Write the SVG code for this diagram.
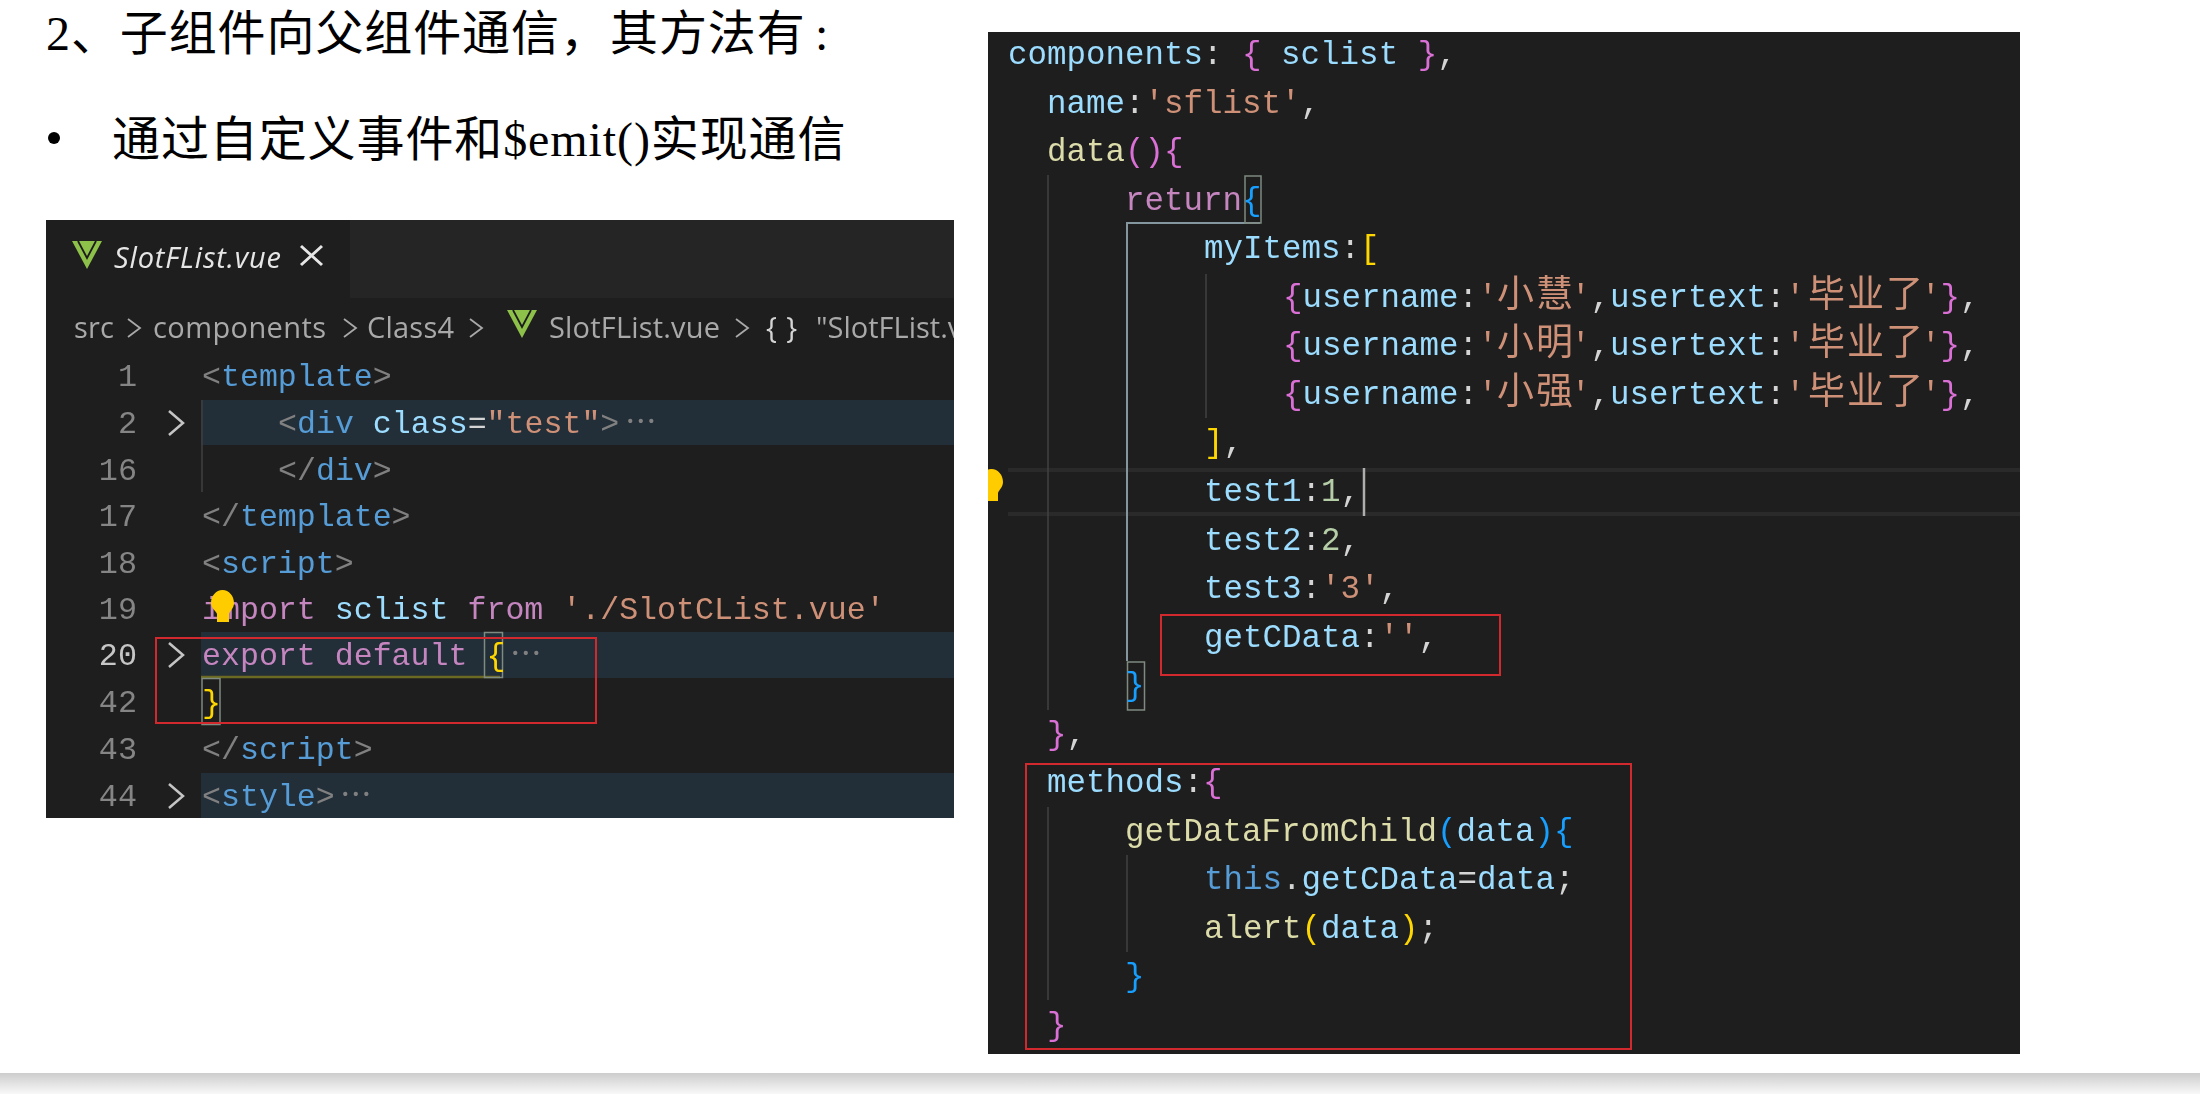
<svg xmlns="http://www.w3.org/2000/svg" width="2200" height="1094" viewBox="0 0 2200 1094">
<defs>
<style>
.h{font-family:"Liberation Serif","Noto Sans CJK SC",serif;font-size:48px;fill:#000;letter-spacing:.9px}
.l{font-family:"Liberation Mono","Noto Sans CJK SC",monospace;font-size:31.6px;white-space:pre}
.r{font-family:"Liberation Mono","Noto Sans CJK SC",monospace;font-size:32.5px;white-space:pre}
.n{font-family:"Liberation Mono",monospace;font-size:31.8px;fill:#858585;text-anchor:end}
.c{font-family:"Noto Sans CJK SC",sans-serif;font-size:37px;letter-spacing:2px;fill:#ce9178}
.b{font-family:"Open Sans",sans-serif;font-size:29px;fill:#a9a9a9}
.p{fill:#9cdcfe}.w{fill:#d4d4d4}.s{fill:#ce9178}.f{fill:#dcdcaa}.k{fill:#c586c0}.o{fill:#da70d6}.y{fill:#ffd700}.u{fill:#179fff}.t{fill:#569cd6}.g{fill:#808080}.d{fill:#b5cea8}
.rb{fill:none;stroke:#d2292e;stroke-width:2}
.ig{stroke:#404040;stroke-width:1.5;fill:none}
.ag{stroke:#84979e;stroke-width:2;fill:none}
.bx{fill:none;stroke:#7f8a80;stroke-width:1.5}
.ch{fill:none;stroke:#c5c5c5;stroke-width:2.5}
.cb{fill:none;stroke:#a9a9a9;stroke-width:1.8}
</style>
<filter id="soft" x="0" y="0" width="1" height="1"><feGaussianBlur stdDeviation="0.45"/></filter>
<linearGradient id="foot" x1="0" y1="0" x2="0" y2="1"><stop offset="0" stop-color="#cdcdcd"/><stop offset="1" stop-color="#f8f8f8"/></linearGradient>
<clipPath id="lc"><rect x="46" y="220" width="908" height="598"/></clipPath>
<clipPath id="rc"><rect x="988" y="32" width="1032" height="1022"/></clipPath>
<g id="vue"><path d="M0 0H30L15 28Z" fill="#8dc149"/><path d="M6 0L15 17L24 0" fill="none" stroke="#1e1e1e" stroke-width="1.800"/></g>
<g id="bulb"><path d="M11.500 0C18 0 23 6 23 13C23 18 19 21 18 24V32H6V24C5 21 0 18 0 13C0 6 5 0 11.500 0Z" fill="#ffcc00"/></g>
<path id="chev" d="M0 -12L14 0L0 12" class="ch"/>
<path id="cs" d="M0 -9L12 0L0 9" class="cb"/>
</defs>
<rect width="2200" height="1094" fill="#fff"/>
<rect id="footer" x="0" y="1073" width="2200" height="21" fill="url(#foot)"/>
<g id="heading">
<text class="h" x="46" y="50">2、子组件向父组件通信，<tspan x="610">其方法有</tspan><tspan x="815">:</tspan></text>
<circle cx="54" cy="138" r="6" fill="#000"/>
<text class="h" x="112" y="156">通过自定义事件和$emit()实现通信</text>
</g>
<g id="left-editor" clip-path="url(#lc)">
<rect x="46" y="220" width="908" height="598" fill="#1e1e1e"/>
<rect x="350" y="220" width="604" height="78" fill="#252526"/>
<g filter="url(#soft)">
<rect x="201" y="400" width="753" height="45" fill="#222d38"/>
<rect x="201" y="632" width="753" height="46" fill="#222d38"/>
<rect x="201" y="773" width="753" height="45" fill="#222d38"/>
<use href="#vue" x="72" y="241"/>
<text x="114" y="268" font-family="Open Sans,sans-serif" font-size="29" font-style="italic" fill="#e6e6e6" textLength="167">SlotFList.vue</text>
<path d="M301 246L322 265M322 246L301 265" stroke="#e6e6e6" stroke-width="3" fill="none"/>
<text class="b" x="74" y="338" textLength="40">src</text>
<use href="#cs" x="128" y="328"/>
<text class="b" x="153" y="338" textLength="173">components</text>
<use href="#cs" x="344" y="328"/>
<text class="b" x="367" y="338" textLength="87">Class4</text>
<use href="#cs" x="470" y="328"/>
<use href="#vue" x="507" y="310"/>
<text class="b" x="549" y="338" textLength="171">SlotFList.vue</text>
<use href="#cs" x="736" y="328"/>
<text class="b" x="766" y="338" style="fill:#d4d4d4" textLength="31">{}</text>
<text class="b" x="816" y="338">"SlotFList.vue"</text>
<path class="ig" d="M202 400V492"/>
<text class="n" x="137" y="386">1</text>
<text class="n" x="137" y="433">2</text>
<text class="n" x="137" y="480">16</text>
<text class="n" x="137" y="526">17</text>
<text class="n" x="137" y="573">18</text>
<text class="n" x="137" y="619">19</text>
<text class="n" x="137" y="665" style="fill:#c6c6c6">20</text>
<text class="n" x="137" y="712">42</text>
<text class="n" x="137" y="759">43</text>
<text class="n" x="137" y="806">44</text>
<use href="#chev" x="169" y="423"/>
<use href="#chev" x="169" y="655"/>
<use href="#chev" x="169" y="796"/>
<text class="l" x="202" y="386"><tspan class="g">&lt;</tspan><tspan class="t">template</tspan><tspan class="g">&gt;</tspan></text>
<text class="l" x="278" y="433"><tspan class="g">&lt;</tspan><tspan class="t">div</tspan> <tspan class="p">class</tspan><tspan class="w">=</tspan><tspan class="s">"test"</tspan><tspan class="g">&gt;</tspan></text>
<text class="l g" x="625" y="433">⋯</text>
<text class="l" x="278" y="480"><tspan class="g">&lt;/</tspan><tspan class="t">div</tspan><tspan class="g">&gt;</tspan></text>
<text class="l" x="202" y="526"><tspan class="g">&lt;/</tspan><tspan class="t">template</tspan><tspan class="g">&gt;</tspan></text>
<text class="l" x="202" y="573"><tspan class="g">&lt;</tspan><tspan class="t">script</tspan><tspan class="g">&gt;</tspan></text>
<text class="l" x="202" y="619"><tspan class="k">import</tspan> <tspan class="p">sclist</tspan> <tspan class="k">from</tspan> <tspan class="s">'./SlotCList.vue'</tspan></text>
<use href="#bulb" x="211" y="590"/>
<path d="M201 677H500" stroke="#6b6a20" stroke-width="2.500"/>
<rect class="bx" x="484.500" y="632.500" width="18" height="45"/>
<rect class="bx" x="202" y="678.500" width="18" height="46"/>
<text class="l" x="202" y="665"><tspan class="k">export</tspan> <tspan class="k">default</tspan> <tspan class="y">{</tspan></text>
<text class="l g" x="510" y="665">⋯</text>
<text class="l y" x="202" y="712">}</text>
<text class="l" x="202" y="759"><tspan class="g">&lt;/</tspan><tspan class="t">script</tspan><tspan class="g">&gt;</tspan></text>
<text class="l" x="202" y="806"><tspan class="g">&lt;</tspan><tspan class="t">style</tspan><tspan class="g">&gt;</tspan></text>
<text class="l g" x="340" y="806">⋯</text>
</g>
<rect class="rb" x="156" y="638" width="440" height="85"/>
</g>
<g id="right-editor" clip-path="url(#rc)">
<rect x="988" y="32" width="1032" height="1022" fill="#1e1e1e"/>
<g filter="url(#soft)">
<path d="M1008 470H2020M1008 514H2020" stroke="#2a2a2a" stroke-width="4"/>
<path class="ig" d="M1048 175V710M1206 274V418M1048 807V1000M1127 855V952"/>
<path class="ag" d="M1127 661V223H1260"/>
<rect class="bx" x="1245" y="176" width="16" height="47"/>
<rect class="bx" x="1127.500" y="662" width="17" height="48"/>
<use href="#bulb" x="980" y="469"/>
<path d="M1364 468V516" stroke="#aeafad" stroke-width="2.500"/>
<text class="r" x="1008" y="64"><tspan class="p">components</tspan><tspan class="w">:</tspan> <tspan class="o">{</tspan> <tspan class="p">sclist</tspan> <tspan class="o">}</tspan><tspan class="w">,</tspan></text>
<text class="r" x="1047" y="112.500"><tspan class="p">name</tspan><tspan class="w">:</tspan><tspan class="s">'sflist'</tspan><tspan class="w">,</tspan></text>
<text class="r" x="1047" y="161"><tspan class="f">data</tspan><tspan class="o">(){</tspan></text>
<text class="r" x="1125" y="210"><tspan class="k">return</tspan><tspan class="u">{</tspan></text>
<text class="r" x="1204" y="258"><tspan class="p">myItems</tspan><tspan class="w">:</tspan><tspan class="y">[</tspan></text>
<text class="r" y="307"><tspan class="o" x="1283">{</tspan><tspan class="p">username</tspan><tspan class="w">:</tspan><tspan class="s">'</tspan><tspan class="c" x="1497">小慧</tspan><tspan class="s" x="1571">'</tspan><tspan class="w">,</tspan><tspan class="p">usertext</tspan><tspan class="w">:</tspan><tspan class="s">'</tspan><tspan class="c" x="1808">毕业了</tspan><tspan class="s" x="1921">'</tspan><tspan class="o">}</tspan><tspan class="w">,</tspan></text>
<text class="r" y="355"><tspan class="o" x="1283">{</tspan><tspan class="p">username</tspan><tspan class="w">:</tspan><tspan class="s">'</tspan><tspan class="c" x="1497">小明</tspan><tspan class="s" x="1571">'</tspan><tspan class="w">,</tspan><tspan class="p">usertext</tspan><tspan class="w">:</tspan><tspan class="s">'</tspan><tspan class="c" x="1808">毕业了</tspan><tspan class="s" x="1921">'</tspan><tspan class="o">}</tspan><tspan class="w">,</tspan></text>
<text class="r" y="404"><tspan class="o" x="1283">{</tspan><tspan class="p">username</tspan><tspan class="w">:</tspan><tspan class="s">'</tspan><tspan class="c" x="1497">小强</tspan><tspan class="s" x="1571">'</tspan><tspan class="w">,</tspan><tspan class="p">usertext</tspan><tspan class="w">:</tspan><tspan class="s">'</tspan><tspan class="c" x="1808">毕业了</tspan><tspan class="s" x="1921">'</tspan><tspan class="o">}</tspan><tspan class="w">,</tspan></text>
<text class="r" x="1204" y="452"><tspan class="y">]</tspan><tspan class="w">,</tspan></text>
<text class="r" x="1204" y="501"><tspan class="p">test1</tspan><tspan class="w">:</tspan><tspan class="d">1</tspan><tspan class="w">,</tspan></text>
<text class="r" x="1204" y="549.500"><tspan class="p">test2</tspan><tspan class="w">:</tspan><tspan class="d">2</tspan><tspan class="w">,</tspan></text>
<text class="r" x="1204" y="598"><tspan class="p">test3</tspan><tspan class="w">:</tspan><tspan class="s">'3'</tspan><tspan class="w">,</tspan></text>
<text class="r" x="1204" y="646.500"><tspan class="p">getCData</tspan><tspan class="w">:</tspan><tspan class="s">''</tspan><tspan class="w">,</tspan></text>
<text class="r u" x="1125" y="695">}</text>
<text class="r" x="1047" y="744"><tspan class="o">}</tspan><tspan class="w">,</tspan></text>
<text class="r" x="1047" y="792"><tspan class="p">methods</tspan><tspan class="w">:</tspan><tspan class="o">{</tspan></text>
<text class="r" x="1125" y="841"><tspan class="f">getDataFromChild</tspan><tspan class="u">(</tspan><tspan class="p">data</tspan><tspan class="u">){</tspan></text>
<text class="r" x="1204" y="889"><tspan class="t">this</tspan><tspan class="w">.</tspan><tspan class="p">getCData</tspan><tspan class="w">=</tspan><tspan class="p">data</tspan><tspan class="w">;</tspan></text>
<text class="r" x="1204" y="938"><tspan class="f">alert</tspan><tspan class="y">(</tspan><tspan class="p">data</tspan><tspan class="y">)</tspan><tspan class="w">;</tspan></text>
<text class="r u" x="1125" y="986">}</text>
<text class="r o" x="1047" y="1035">}</text>
</g>
<rect class="rb" x="1161" y="615" width="339" height="60"/>
<rect class="rb" x="1026" y="764" width="605" height="285"/>
</g>
</svg>
